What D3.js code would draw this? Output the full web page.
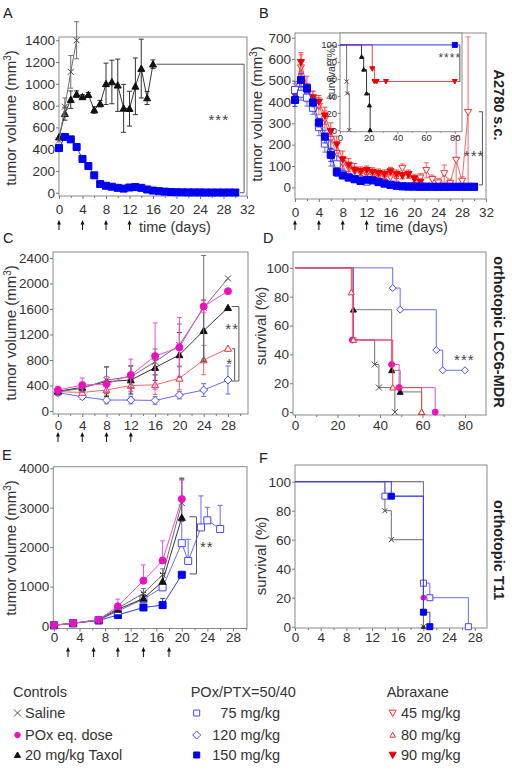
<!DOCTYPE html>
<html>
<head>
<meta charset="utf-8">
<title>tumor volume and survival</title>
<script src="https://d3js.org/d3.v7.min.js"></script>
<style>
  body { margin: 0; background: #fff; }
  text { font-family: "Liberation Sans", Arial, sans-serif; }
</style>
</head>
<body>
<svg id="fig"></svg>
<script>
// ---------- A: A2780 s.c., tumour volume ----------
var aDays150 = d3.range(0, 31);
var aP150 = [410, 512, 490, 420, 310, 245, 160, 80, 64, 55, 45, 38, 48, 52, 45, 30, 20, 14, 10, 7, 5, 4, 3, 3, 3, 2, 2, 2, 2, 2, 2];
var aDaysTaxol = d3.range(0, 17);
var aTaxol = [510, 726, 855, 905, 880, 900, 760, 818, 1000, 1017, 987, 775, 772, 977, 1140, 870, 1180];
var aTaxolErr = [0, 60, 80, 30, 20, 20, 30, 30, 190, 200, 240, 220, 160, 260, 270, 60, 40];
var aDaysSaline = [0, 1, 2, 3];
var aSaline = [480, 790, 1110, 1400];
var aSalineErr = [0, 80, 150, 170];

// ---------- B: A2780 s.c., nanoformulations ----------
var bDays = d3.range(0, 31);
var bP150 = [409, 502, 463, 397, 303, 238, 152, 72, 56, 46, 38, 30, 36, 33, 25, 18, 12, 8, 5, 4, 4, 3, 3, 3, 3, 3, 3, 3, 3, 3, 3];
var bP150Err = [30, 30, 20, 20, 20, 30, 30, 20, 15, 10, 10, 10, 10, 10, 5, 5, 5, 0, 0, 0, 0, 0, 0, 0, 0, 0, 0, 0, 0, 0, 0];
var bP75 = [455, 438, 420, 372, 282, 205, 160, 108, 62, 48, 40, 33, 27, 34, 26, 19, 13, 9, 6, 5, 4, 4, 4, 3, 3, 3, 3, 3, 3, 3, 3];
var bP75Err = [40, 30, 40, 30, 40, 40, 60, 40, 20, 15, 10, 10, 10, 10, 5, 5, 5, 0, 0, 0, 0, 0, 0, 0, 0, 0, 0, 0, 0, 0, 0];
var bDaysA90 = d3.range(0, 22);
var bA90 = [432, 585, 470, 420, 400, 335, 262, 200, 130, 105, 82, 76, 80, 72, 66, 62, 74, 62, 55, 60, 40, 25];
var bA90Err = [40, 45, 50, 30, 30, 40, 40, 40, 40, 30, 30, 20, 20, 20, 20, 20, 20, 20, 15, 15, 15, 15];
var bDaysA45 = d3.range(0, 30);
var bA45 = [445, 560, 440, 410, 380, 318, 225, 160, 112, 92, 75, 68, 65, 60, 55, 52, 48, 50, 90, 62, 42, 45, 80, 38, 22, 65, 20, 128, 30, 352];
var bA45Err = [40, 60, 40, 40, 40, 40, 40, 40, 30, 25, 20, 20, 20, 20, 20, 20, 20, 20, 20, 20, 20, 20, 35, 20, 20, 40, 20, 110, 20, 352];

// B inset: survival (Kaplan-Meier steps)
var iSalineT = [0, 4.6, 5, 6.5], iSalineS = [100, 57, 43, 0];
var iTaxolT = [0, 15, 16.5, 18.5, 20.5, 21], iTaxolS = [100, 86, 71, 43, 29, 0];
var iA90T = [0, 22.5, 24, 25.5, 32, 80], iA90S = [100, 72, 57, 57, 57, 57];
var iP150T = [0, 80], iP150S = [100, 100];

// ---------- C: orthotopic LCC6-MDR, tumour volume ----------
var cDays = [0, 4, 8, 12, 16, 20, 24, 28];
var cSaline = [300, 355, 486, 538, 773, 1034, 1620, 2080];
var cSalineErr = [60, 60, 210, 170, 200, 330, 820, 0];
var cPox = [329, 407, 423, 564, 862, 998, 1640, 1880];
var cPoxErr = [60, 110, 120, 250, 520, 470, 100, 0];
var cTaxol = [310, 371, 460, 486, 680, 880, 1260, 1620];
var cTaxolErr = [50, 60, 230, 220, 200, 350, 480, 0];
var cA80 = [303, 290, 330, 400, 410, 512, 800, 980];
var cA80Err = [40, 40, 80, 100, 150, 180, 230, 0];
var cP120 = [287, 224, 172, 172, 165, 250, 329, 486];
var cP120Err = [40, 40, 60, 60, 60, 60, 100, 220];

// ---------- D: orthotopic LCC6-MDR, survival ----------
var dSalineT = [0, 27.5, 37.5, 39.5, 47], dSalineS = [100, 50, 33, 17, 0];
var dTaxolT = [0, 27.5, 45.5, 49.5, 59.6], dTaxolS = [100, 71, 29, 14, 0];
var dA80T = [0, 26.5, 27.5, 46, 59.6], dA80S = [100, 83, 50, 17, 0];
var dPoxT = [0, 27, 45.5, 49, 66], dPoxS = [100, 50, 33, 17, 0];
var dP120T = [0, 46, 49.5, 66.5, 69.5, 80], dP120S = [100, 86, 71, 43, 29, 29];

// ---------- E: orthotopic T11, tumour volume ----------
var eDays = [0, 3, 7, 10, 14, 17, 20];
var eSaline = [20, 70, 160, 450, 830, 1300, 3120];
var eSalineErr = [0, 0, 20, 100, 120, 150, 600];
var ePox = [20, 70, 160, 500, 1150, 1660, 3220];
var ePoxErr = [0, 0, 20, 180, 400, 500, 480];
var eTaxol = [20, 70, 150, 420, 700, 1130, 2750];
var eTaxolErr = [0, 0, 20, 80, 150, 200, 1000];
var eDaysP75 = [0, 3, 7, 10, 14, 17, 20, 21, 23, 24, 26];
var eP75 = [20, 70, 150, 380, 680, 980, 2100, 1650, 2500, 2680, 2460];
var eP75Err = [0, 0, 20, 60, 120, 150, 550, 550, 800, 330, 600];
var eP150 = [20, 70, 140, 280, 470, 530, 1300];
var eP150Err = [0, 0, 20, 50, 60, 170, 0];

// ---------- F: orthotopic T11, survival ----------
var fSalineT = [0, 14, 15, 20], fSalineS = [100, 80, 60, 0];
var fTaxolT = [0, 20], fTaxolS = [100, 0];
var fPoxT = [0, 20], fPoxS = [100, 20];
var fP75T = [0, 14, 20, 21, 27], fP75S = [100, 90, 30, 20, 0];
var fP150T = [0, 15, 20, 21], fP150S = [100, 90, 10, 0];

// ---------- legend ----------
var legendTitles = ["Controls", "POx/PTX=50/40", "Abraxane"];
var legendKeys = [["saline", "pox", "taxol"], ["p75", "p120", "p150"], ["a45", "a80", "a90"]];
var legendLabels = [["Saline", "POx eq. dose", "20 mg/kg Taxol"], ["75 mg/kg", "120 mg/kg", "150 mg/kg"], ["45 mg/kg", "80 mg/kg", "90 mg/kg"]];

var styles = {
  saline: {shape: "x", color: "#4a4a4a", fill: "none", line: "#6e6e6e"},
  pox: {shape: "circle", color: "#ee10c0", fill: "#ee10c0", line: "#ee50d0"},
  taxol: {shape: "tri", color: "#111", fill: "#111", line: "#333"},
  p75: {shape: "square", color: "#4646ff", fill: "#fff", line: "#6a6aff"},
  p120: {shape: "diamond", color: "#4646ff", fill: "#fff", line: "#6a6aff"},
  p150: {shape: "square", color: "#0000f0", fill: "#0000f0", line: "#3434ff"},
  a45: {shape: "triDown", color: "#f03030", fill: "#fff", line: "#f06a6a"},
  a80: {shape: "tri", color: "#f03030", fill: "#fff", line: "#f06a6a"},
  a90: {shape: "triDown", color: "#ee0000", fill: "#ee0000", line: "#ff4040"}
};

var svg = d3.select("#fig").attr("width", 512).attr("height", 770);
var FONT = "Liberation Sans, Arial, sans-serif";

// scales, ranges = plot frames
var xA = d3.scaleLinear().domain([0, 32]).range([59, 247]);
var yA = d3.scaleLinear().domain([-30, 1430]).range([196, 37]);
var xB = d3.scaleLinear().domain([0, 32]).range([295, 486]);
var yB = d3.scaleLinear().domain([-54, 722]).range([199, 33]);
var xI = d3.scaleLinear().domain([0, 85]).range([340, 462]);
var yI = d3.scaleLinear().domain([-2, 114]).range([131.7, 33]);
var xC = d3.scaleLinear().domain([-0.82, 31.3]).range([53, 248]);
var yC = d3.scaleLinear().domain([-47, 2494]).range([414, 252]);
var xD = d3.scaleLinear().domain([-0.94, 89.9]).range([293, 486]);
var yD = d3.scaleLinear().domain([-2, 111]).range([415, 252]);
var xE = d3.scaleLinear().domain([-0.1, 30.2]).range([53.3, 247]);
var yE = d3.scaleLinear().domain([-63, 4040]).range([628.5, 466.7]);
var xF = d3.scaleLinear().domain([0, 29.9]).range([295, 487]);
var yF = d3.scaleLinear().domain([-0.9, 111.5]).range([628, 465]);

function shapePath(shape, h) {
  if (shape == "square") return `M${-h},${-h}h${2*h}v${2*h}h${-2*h}Z`;
  if (shape == "diamond") return `M0,${-h}L${h},0L0,${h}L${-h},0Z`;
  if (shape == "tri") return `M0,${-h}L${h},${h*0.8}L${-h},${h*0.8}Z`;
  if (shape == "triDown") return `M0,${h}L${h},${-h*0.8}L${-h},${-h*0.8}Z`;
  if (shape == "circle") return `M${h},0A${h},${h} 0 1,1 ${-h},0A${h},${h} 0 1,1 ${h},0Z`;
  return `M${-h},${-h}L${h},${h}M${-h},${h}L${h},${-h}`;
}

function frame(x, y, fill) {
  var xr = x.range(), yr = y.range();
  svg.append("rect")
    .attr("x", xr[0]).attr("y", yr[1])
    .attr("width", xr[1] - xr[0]).attr("height", yr[0] - yr[1])
    .attr("fill", fill || "#fff").attr("stroke", "#8a8a8a");
}

function axes(x, y, o) {
  var xr = x.range(), yr = y.range();
  var fs = o.fs || 13.5, ts = o.ts || 3;
  var gx = svg.append("g").attr("transform", "translate(0," + yr[0] + ")")
    .call(d3.axisBottom(x).tickValues(o.xt).tickFormat(d3.format("d"))
      .tickSize(ts).tickPadding(o.xpad).tickSizeOuter(0));
  var gm = svg.append("g").attr("transform", "translate(0," + yr[0] + ")")
    .call(d3.axisBottom(x).tickValues(o.xm || []).tickSize(ts - 1).tickFormat("").tickSizeOuter(0));
  var gy = svg.append("g").attr("transform", "translate(" + xr[0] + ",0)")
    .call(d3.axisLeft(y).tickValues(o.yt).tickFormat(d3.format("d"))
      .tickSize(ts).tickPadding(o.ypad == null ? 1 : o.ypad).tickSizeOuter(0));
  [gx, gm, gy].forEach(function(g) {
    g.select(".domain").remove();
    g.attr("font-family", FONT).attr("font-size", fs);
    g.selectAll("line").attr("stroke", "#777");
    g.selectAll("text").attr("fill", "#333");
  });
}

function series(x, y, days, vals, errs, st, s, up) {
  var pts = days.map(function(d, i) { return [d, vals[i], errs ? errs[i] : 0]; });
  svg.append("path").datum(pts)
    .attr("d", d3.line().x(d => x(d[0])).y(d => y(d[1])))
    .attr("fill", "none").attr("stroke", st.line).attr("stroke-width", 1);
  var eb = svg.append("g").attr("stroke", st.line).attr("stroke-width", 1);
  pts.filter(d => d[2] > 0).forEach(function(d) {
    var hi = d[1] + d[2], lo = up ? d[1] : Math.max(d[1] - d[2], 0);
    eb.append("line").attr("x1", x(d[0])).attr("x2", x(d[0])).attr("y1", y(lo)).attr("y2", y(hi));
    eb.append("line").attr("x1", x(d[0]) - 2.5).attr("x2", x(d[0]) + 2.5).attr("y1", y(hi)).attr("y2", y(hi));
    if (!up) eb.append("line").attr("x1", x(d[0]) - 2.5).attr("x2", x(d[0]) + 2.5).attr("y1", y(lo)).attr("y2", y(lo));
  });
  markers(x, y, pts, st, s);
}

function markers(x, y, pts, st, s) {
  svg.append("g").selectAll("path").data(pts).enter().append("path")
    .attr("transform", d => "translate(" + x(d[0]) + "," + y(d[1]) + ")")
    .attr("d", shapePath(st.shape, s / 2))
    .attr("fill", st.fill).attr("stroke", st.color).attr("stroke-width", 1);
}

function km(x, y, t, sv, st, s, lineColor) {
  var pts = t.map((d, i) => [d, sv[i]]);
  svg.append("path").datum(pts)
    .attr("d", d3.line().curve(d3.curveStepAfter).x(d => x(d[0])).y(d => y(d[1])))
    .attr("fill", "none").attr("stroke", lineColor || st.line).attr("stroke-width", 1);
  markers(x, y, pts.slice(1), st, s);
}

function bracket(x, y, pts) {
  svg.append("path").datum(pts)
    .attr("d", d3.line().x(d => x(d[0])).y(d => y(d[1])))
    .attr("fill", "none").attr("stroke", "#555").attr("stroke-width", 1);
}

function stars(x, y, d, v, txt, fs) {
  svg.append("text").attr("x", x(d)).attr("y", y(v)).attr("dy", "0.7em")
    .attr("text-anchor", "middle").attr("font-size", fs || 15).attr("fill", "#444")
    .attr("letter-spacing", 1).text(txt);
}

function arrows(x, days, top) {
  days.forEach(function(d) {
    svg.append("line").attr("x1", x(d)).attr("x2", x(d)).attr("y1", top + 3).attr("y2", top + 10)
      .attr("stroke", "#111").attr("stroke-width", 1);
    svg.append("path").attr("d", "M" + x(d) + "," + top + "l-2,4.5h4z").attr("fill", "#111");
  });
}

function yTitle(cx, cy, txt, sup) {
  var t = svg.append("text").attr("transform", "translate(" + cx + "," + cy + ") rotate(-90)")
    .attr("text-anchor", "middle").attr("dy", "0.35em").attr("font-size", 15).attr("fill", "#333");
  if (sup) {
    t.append("tspan").text(txt);
    t.append("tspan").attr("dy", -5).attr("font-size", 10).text("3");
    t.append("tspan").attr("dy", 5).text(")");
  } else t.text(txt);
}

function sideTitle(cx, cy, txt) {
  svg.append("text").attr("transform", "translate(" + cx + "," + cy + ") rotate(90)")
    .attr("text-anchor", "middle").attr("dy", "0.35em").attr("font-size", 14.5)
    .attr("font-weight", "bold").attr("fill", "#222").text(txt);
}

function letter(x, y, txt) {
  svg.append("text").attr("x", x).attr("y", y).attr("font-size", 14.5).attr("fill", "#222").text(txt);
}

function timeLabel(x, y) {
  svg.append("text").attr("x", x).attr("y", y).attr("font-size", 14.5).attr("fill", "#333").text("time (days)");
}

var ev4 = d3.range(0, 33, 4), odd2 = d3.range(2, 32, 4);

// ---- Panel A ----
frame(xA, yA);
axes(xA, yA, {xt: ev4, xm: odd2, yt: d3.range(0, 1401, 200), xpad: 5});
series(xA, yA, aDaysTaxol, aTaxol, aTaxolErr, styles.taxol, 7);
series(xA, yA, aDaysSaline, aSaline, aSalineErr, styles.saline, 6);
series(xA, yA, aDays150, aP150, null, styles.p150, 7);
bracket(xA, yA, [[16.6, 1180], [31.5, 1180], [31.5, 0], [30.8, 0]]);
stars(xA, yA, 27.2, 720, "***");
arrows(xA, [0, 4, 8, 12], 220);
timeLabel(139, 231.5);
letter(3, 18, "A");
yTitle(11, 118, "tumor volume (mm", true);

// ---- Panel B ----
frame(xB, yB);
axes(xB, yB, {xt: ev4, xm: odd2, yt: d3.range(0, 701, 100), xpad: 5});
series(xB, yB, bDaysA45, bA45, bA45Err, styles.a45, 7);
series(xB, yB, bDaysA90, bA90, bA90Err, styles.a90, 7);
series(xB, yB, bDays, bP75, bP75Err, styles.p75, 7);
series(xB, yB, bDays, bP150, bP150Err, styles.p150, 7);
bracket(xB, yB, [[30.8, 354], [31.4, 354], [31.4, 12], [30.8, 12]]);
stars(xB, yB, 30, 175, "***");
arrows(xB, [0, 4, 8, 12], 220);
timeLabel(376, 231.5);
letter(259, 18, "B");
yTitle(257, 114, "tumor volume (mm", true);
sideTitle(499, 105, "A2780 s.c.");

// inset
frame(xI, yI);
axes(xI, yI, {xt: d3.range(0, 81, 20), xm: d3.range(10, 81, 20), yt: d3.range(0, 101, 20), xpad: 1, fs: 9.5, ts: 2});
km(xI, yI, iSalineT, iSalineS, styles.saline, 4);
km(xI, yI, iTaxolT, iTaxolS, styles.taxol, 4);
km(xI, yI, iA90T, iA90S, styles.a90, 5);
km(xI, yI, iP150T, iP150S, styles.p150, 5);
bracket(xI, yI, [[82, 100], [83.5, 100], [83.5, 57], [82, 57]]);
stars(xI, yI, 76.5, 90, "****", 12);
svg.append("text").attr("transform", "translate(331,72) rotate(-90)").attr("text-anchor", "middle")
  .attr("dy", "0.35em").attr("font-size", 10.5).attr("fill", "#333").text("survival (%)");

// ---- Panel C ----
frame(xC, yC);
axes(xC, yC, {xt: d3.range(0, 29, 4), xm: d3.range(2, 31, 4), yt: d3.range(0, 2401, 400), xpad: 3});
series(xC, yC, cDays, cP120, cP120Err, styles.p120, 8);
series(xC, yC, cDays, cA80, cA80Err, styles.a80, 7);
series(xC, yC, cDays, cTaxol, cTaxolErr, styles.taxol, 7);
series(xC, yC, cDays, cSaline, cSalineErr, styles.saline, 6);
series(xC, yC, cDays, cPox, cPoxErr, styles.pox, 7);
bracket(xC, yC, [[28.6, 1640], [29.8, 1640], [29.8, 470], [28.6, 470]]);
bracket(xC, yC, [[28.6, 975], [29.1, 975], [29.1, 480]]);
stars(xC, yC, 28.7, 1380, "**");
stars(xC, yC, 28.3, 820, "*");
arrows(xC, [0, 4, 8, 12], 432);
letter(3, 243, "C");
yTitle(11, 333, "tumor volume (mm", true);

// ---- Panel D ----
frame(xD, yD);
axes(xD, yD, {xt: d3.range(0, 81, 20), xm: d3.range(10, 90, 20), yt: d3.range(0, 101, 20), xpad: 2});
km(xD, yD, dP120T, dP120S, styles.p120, 7);
km(xD, yD, dSalineT, dSalineS, styles.saline, 6);
km(xD, yD, dTaxolT, dTaxolS, styles.taxol, 6, "#777");
km(xD, yD, dPoxT, dPoxS, styles.pox, 6);
km(xD, yD, dA80T, dA80S, styles.a80, 6, "#ee4444");
stars(xD, yD, 79.7, 40, "***");
letter(263, 243, "D");
yTitle(261, 326, "survival (%)");
sideTitle(499, 332, "orthotopic LCC6-MDR");

// ---- Panel E ----
frame(xE, yE);
axes(xE, yE, {xt: d3.range(0, 29, 4), xm: d3.range(2, 31, 4), yt: d3.range(0, 4001, 1000), xpad: 1});
series(xE, yE, eDays, eP150, eP150Err, styles.p150, 7, true);
series(xE, yE, eDaysP75, eP75, eP75Err, styles.p75, 7, true);
series(xE, yE, eDays, eTaxol, eTaxolErr, styles.taxol, 7, true);
series(xE, yE, eDays, eSaline, eSalineErr, styles.saline, 6, true);
series(xE, yE, eDays, ePox, ePoxErr, styles.pox, 7, true);
bracket(xE, yE, [[21.2, 2770], [22.3, 2770], [22.3, 1320], [21.2, 1320]]);
stars(xE, yE, 23.9, 2150, "**");
arrows(xE, [2.2, 6.2, 10, 14, 18], 647);
letter(2, 460, "E");
yTitle(11, 548, "tumor volume  (mm", true);

// ---- Panel F ----
frame(xF, yF);
axes(xF, yF, {xt: d3.range(0, 29, 4), xm: d3.range(2, 30, 4), yt: d3.range(0, 101, 20), xpad: 1});
km(xF, yF, fPoxT, fPoxS, styles.pox, 5);
km(xF, yF, fTaxolT, fTaxolS, styles.taxol, 4, "#777");
km(xF, yF, fSalineT, fSalineS, styles.saline, 5);
km(xF, yF, fP75T, fP75S, styles.p75, 6);
km(xF, yF, fP150T, fP150S, styles.p150, 6);
letter(259, 463, "F");
yTitle(261, 556, "survival (%)");
sideTitle(499, 550, "orthotopic T11");

// ---- Legend ----
var colX = [13, 190.7, 386.7], mkX = [17.5, 196.7, 392.7];
var rowY = [718, 740, 760];
var mkSize = {saline: 7, pox: 5.5, taxol: 6, p75: 6, p120: 8, p150: 6, a45: 7, a80: 5.5, a90: 7};
legendTitles.forEach(function(title, c) {
  svg.append("text").attr("x", colX[c]).attr("y", 696.5).attr("font-size", 14.5).attr("fill", "#333").text(title);
  legendKeys[c].forEach(function(k, r) {
    var st = styles[k];
    svg.append("path").attr("transform", "translate(" + mkX[c] + "," + (rowY[r] - 5) + ")")
      .attr("d", shapePath(st.shape, mkSize[k] / 2))
      .attr("fill", st.fill).attr("stroke", st.color).attr("stroke-width", 1);
    var t = svg.append("text").attr("y", rowY[r]).attr("font-size", 14.5).attr("fill", "#333").text(legendLabels[c][r]);
    if (c == 1) t.attr("x", 280).attr("text-anchor", "end");
    else if (c == 0) t.attr("x", 25);
    else t.attr("x", 401);
  });
});
</script>
</body>
</html>
